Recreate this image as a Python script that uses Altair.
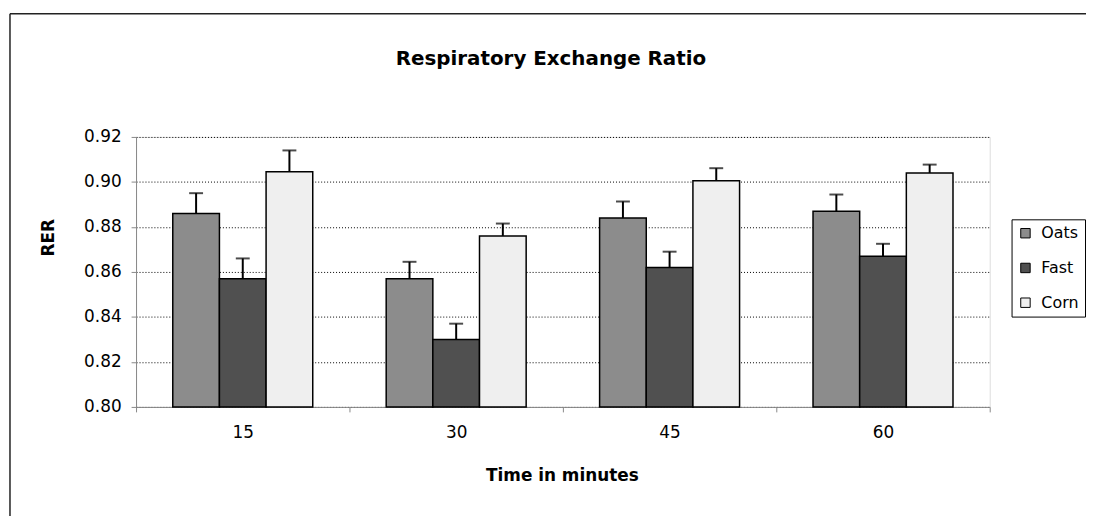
import altair as alt
import pandas as pd

times = ["15", "30", "45", "60"]
series = ["Oats", "Fast", "Corn"]
oats = [0.886, 0.857, 0.884, 0.887]
oats_err = [0.009, 0.0075, 0.0073, 0.0074]
fast = [0.857, 0.830, 0.862, 0.867]
fast_err = [0.009, 0.007, 0.007, 0.0055]
corn = [0.9045, 0.876, 0.9005, 0.904]
corn_err = [0.0095, 0.0055, 0.0056, 0.0037]
y_ticks = [0.80, 0.82, 0.84, 0.86, 0.88, 0.90, 0.92]
y_base = 0.80
colors = ["#8c8c8c", "#505050", "#efefef"]
title_text = "Respiratory Exchange Ratio"

rows = []
for s, vals, errs in zip(series, [oats, fast, corn], [oats_err, fast_err, corn_err]):
    for t, v, e in zip(times, vals, errs):
        rows.append({"time": t, "series": s, "value": v, "top": v + e, "base": y_base})
df = pd.DataFrame(rows)

FONT = "DejaVu Sans"

x_enc = alt.X(
    "time:N", sort=times,
    scale=alt.Scale(paddingInner=0, paddingOuter=0),
    axis=alt.Axis(
        title="Time in minutes", labelAngle=0, tickBand="extent",
        labelPadding=13, tickSize=5, grid=False,
        labelFont=FONT, labelFontSize=17, labelColor="black",
        titleX=429, titleY=69, titleAlign="center", titleBaseline="middle",
        titleFont=FONT, titleFontSize=17, titleFontWeight="bold",
    ),
)
xoff = alt.XOffset("series:N", sort=series,
                   scale=alt.Scale(paddingInner=0, paddingOuter=0.787))
y_scale = alt.Scale(domain=[0.80, 0.92], zero=False, nice=False)

bars = alt.Chart(df).mark_bar(stroke="black", strokeWidth=1.5).encode(
    x=x_enc,
    xOffset=xoff,
    y=alt.Y("value:Q", scale=y_scale, title="RER",
            axis=alt.Axis(values=y_ticks, format=".2f", grid=True,
                          gridColor="black", gridDash=[1, 2], gridOpacity=1,
                          gridWidth=1, tickSize=5, labelPadding=10,
                          labelFont=FONT, labelFontSize=17, labelColor="black",
                          titleX=-88, titleY=101, titleAngle=270,
                          titleAlign="center", titleBaseline="middle",
                          titleFont=FONT, titleFontSize=17, titleFontWeight="bold")),
    y2="base:Q",
    color=alt.Color("series:N", sort=series,
                    scale=alt.Scale(domain=series, range=colors),
                    legend=alt.Legend(title=None, orient="none", legendX=882, legendY=83,
                                      symbolType="square", symbolSize=90,
                                      symbolStrokeColor="black", symbolStrokeWidth=1,
                                      symbolOpacity=1,
                                      labelFont=FONT, labelFontSize=16, labelColor="black",
                                      rowPadding=19, padding=6, labelOffset=8,
                                      strokeColor="black", fillColor="white")),
)

err_line = alt.Chart(df).mark_rule(color="black", strokeWidth=2).encode(
    x=alt.X("time:N", sort=times), xOffset=xoff,
    y=alt.Y("value:Q", scale=y_scale, title="RER"), y2="top:Q",
)
err_cap = alt.Chart(df).mark_tick(color="black", thickness=2, size=14).encode(
    x=alt.X("time:N", sort=times), xOffset=xoff,
    y=alt.Y("top:Q", scale=y_scale, title="RER"),
)

one = pd.DataFrame({"t": [title_text]})
title = alt.Chart(one).mark_text(font=FONT, fontSize=20, fontWeight="bold",
                                 align="center", baseline="alphabetic", color="black").encode(
    text="t:N", x=alt.value(418), y=alt.value(-72))
frame_top = alt.Chart(one).mark_rule(color="#222222", strokeWidth=1.5).encode(
    x=alt.value(-127), x2=alt.value(960), y=alt.value(-124))
frame_left = alt.Chart(one).mark_rule(color="#222222", strokeWidth=1.5).encode(
    x=alt.value(-127), y=alt.value(-124), y2=alt.value(390))

chart = alt.layer(bars, err_line, err_cap, title, frame_top, frame_left).properties(
    width=860, height=272,
    autosize=alt.AutoSizeParams(type="none"),
    padding={"left": 129, "top": 128, "right": 97, "bottom": 108},
).configure_view(
    stroke="black", strokeWidth=1.5, fill="#cccccc"
).configure_axis(
    domainColor="black", tickColor="black", labelColor="black", titleColor="black",
).configure(background="white")

chart.save("out.html", embed_options={"renderer": "svg", "actions": False})
